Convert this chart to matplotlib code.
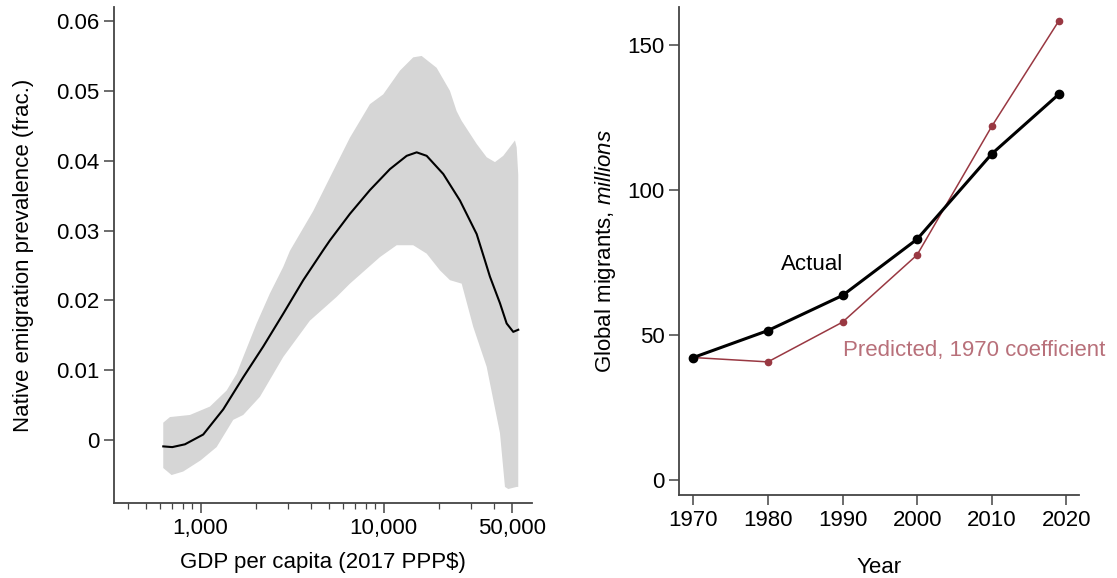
import numpy as np
import matplotlib
matplotlib.use("Agg")
import matplotlib.pyplot as plt
from matplotlib.ticker import FixedLocator, NullFormatter

plt.rcParams['font.family'] = ['Liberation Sans', 'DejaVu Sans']
plt.rcParams['mathtext.fontset'] = 'custom'
plt.rcParams['mathtext.rm'] = 'Liberation Sans'
plt.rcParams['mathtext.it'] = 'Liberation Sans:italic'
plt.rcParams['font.size'] = 16

# --- panel izquierdo: prevalencia de emigracion vs PIB per capita ---
gdp_mean = [625, 700, 821, 1033, 1329, 1709, 2198, 2828, 3637, 4677, 5088,
            6543, 8416, 10825, 13360, 15150, 17180, 21170, 26120, 32230,
            35780, 38090, 43210, 47000, 51070, 54380]
prev_mean = [-0.0009, -0.0010, -0.0006, 0.0008, 0.0044, 0.0090, 0.0134, 0.0181,
             0.0229, 0.0272, 0.0286, 0.0324, 0.0358, 0.0388, 0.0407, 0.0412,
             0.0407, 0.0381, 0.0343, 0.0295, 0.0257, 0.0234, 0.0196, 0.0167,
             0.0155, 0.0158]

gdp_upper = [625, 680, 874, 1124, 1387, 1573, 1709, 2023, 2391, 2828, 3076,
             4123, 5088, 6543, 8416, 9950, 12280, 14510, 16130, 19480, 23030,
             25050, 26690, 32230, 36550, 40570, 45040, 52180, 53320, 54380]
prev_upper = [0.0025, 0.0033, 0.0036, 0.0048, 0.0071, 0.0095, 0.0119, 0.0167,
              0.0210, 0.0248, 0.0271, 0.0328, 0.0376, 0.0433, 0.0481, 0.0495,
              0.0529, 0.0548, 0.0550, 0.0533, 0.0500, 0.0471, 0.0457, 0.0424,
              0.0405, 0.0398, 0.0407, 0.0429, 0.0419, 0.0380]

gdp_lower = [625, 694, 803, 1000, 1223, 1507, 1709, 2109, 2828, 3954, 5534,
             6543, 9546, 11780, 14510, 17180, 20310, 23030, 26690, 30880,
             36550, 43210, 46010, 47950, 53320, 54380]
prev_lower = [-0.0040, -0.0050, -0.0045, -0.0029, -0.0010, 0.0029, 0.0036,
              0.0062, 0.0119, 0.0171, 0.0205, 0.0224, 0.0262, 0.0279, 0.0279,
              0.0267, 0.0243, 0.0229, 0.0224, 0.0162, 0.0105, 0.0010, -0.0067,
              -0.0070, -0.0067, -0.0067]

# --- panel derecho: migrantes globales ---
years = [1970, 1980, 1990, 2000, 2010, 2019]
actual = [42.4, 51.7, 63.8, 83.2, 112.6, 133.2]
predicted = [42.4, 40.9, 54.6, 77.8, 122.1, 158.5]

spine_col = '#444444'
pred_col = '#993842'
pred_txt = '#b8707a'

fig = plt.figure(figsize=(11.17, 5.78), dpi=100)
ax1 = fig.add_axes([0.102, 0.1298, 0.374, 0.858])
ax2 = fig.add_axes([0.608, 0.1436, 0.358, 0.845])

for ax in (ax1, ax2):
    for s in ('top', 'right'):
        ax.spines[s].set_visible(False)
    for s in ('left', 'bottom'):
        ax.spines[s].set_color(spine_col)
        ax.spines[s].set_linewidth(1.3)
    ax.tick_params(which='major', length=7, width=1.1, color=spine_col, pad=3.5)
    ax.tick_params(which='minor', length=4, width=0.9, color=spine_col)

# banda de confianza como poligono
band_x = np.r_[gdp_upper, gdp_lower[::-1]]
band_y = np.r_[prev_upper, prev_lower[::-1]]
ax1.fill(band_x, band_y, color='#d6d6d6', lw=0)
ax1.plot(gdp_mean, prev_mean, color='black', lw=1.5)
ax1.set_xscale('log')
ax1.set_xlim(336, 64400)
ax1.set_ylim(-0.009, 0.062)
ax1.xaxis.set_major_locator(FixedLocator([1000, 10000, 50000]))
ax1.set_xticklabels(['1,000', '10,000', '50,000'])
minor = [400, 500, 600, 700, 800, 900] + list(range(2000, 10000, 1000)) + [20000, 30000, 40000]
ax1.xaxis.set_minor_locator(FixedLocator(minor))
ax1.xaxis.set_minor_formatter(NullFormatter())
ax1.set_yticks([0, 0.01, 0.02, 0.03, 0.04, 0.05, 0.06])
ax1.set_yticklabels(['0', '0.01', '0.02', '0.03', '0.04', '0.05', '0.06'])
ax1.set_xlabel('GDP per capita (2017 PPP$)', labelpad=10)
ax1.set_ylabel('Native emigration prevalence (frac.)', labelpad=16)

ax2.plot(years, predicted, color=pred_col, lw=1.1, marker='o', ms=4.5)
ax2.plot(years, actual, color='black', lw=2.2, marker='o', ms=6)
ax2.set_xlim(1968.1, 2021.7)
ax2.set_ylim(-5, 163.4)
ax2.set_xticks([1970, 1980, 1990, 2000, 2010, 2020])
ax2.set_yticks([0, 50, 100, 150])
ax2.text(1981.8, 74.6, 'Actual', ha='left', va='center', color='black')
ax2.text(1990, 44.7, 'Predicted, 1970 coefficient', ha='left', va='center', color=pred_txt)
ax2.set_xlabel('Year', labelpad=19)
ax2.set_ylabel('Global migrants, $\\mathit{millions}$', labelpad=7)

fig.savefig('out.png', dpi=100)
